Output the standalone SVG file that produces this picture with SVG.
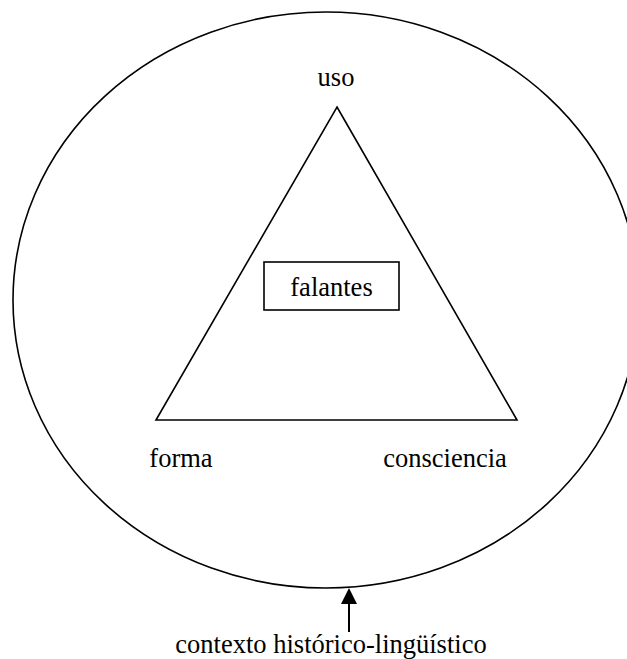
<svg xmlns="http://www.w3.org/2000/svg" width="627" height="659" viewBox="0 0 627 659">
<style>
.s{fill:none;stroke:#000;stroke-width:1.6}
.t{font-family:"Liberation Serif","Times New Roman",serif;font-size:26.5px;fill:#000;text-anchor:middle}
</style>
<defs>
<marker id="ah" viewBox="0 0 10 10" refX="10" refY="5" markerWidth="8" markerHeight="8" markerUnits="userSpaceOnUse" orient="auto">
<path d="M0,0 L10,5 L0,10 Z" fill="#000"/>
</marker>
</defs>
<rect width="627" height="659" fill="#fff"/>
<g id="contexto">
<ellipse class="s" cx="326" cy="300" rx="313" ry="288"/>
<text class="t" x="331" y="653">contexto histórico-lingüístico</text>
</g>
<g id="triangulo">
<polygon class="s" points="337,107 517,420 156,420"/>
</g>
<g id="uso"><text class="t" x="336" y="86">uso</text></g>
<g id="forma"><text class="t" x="181" y="467">forma</text></g>
<g id="consciencia"><text class="t" x="445" y="467">consciencia</text></g>
<g id="falantes">
<rect class="s" x="264" y="262" width="135" height="48"/>
<text class="t" x="331.5" y="296">falantes</text>
</g>
<g id="connectors">
<line x1="349" y1="632" x2="349" y2="604" stroke="#000" stroke-width="2"/>
<polygon points="349,588 341,604 357,604" fill="#000"/>
</g>
</svg>
